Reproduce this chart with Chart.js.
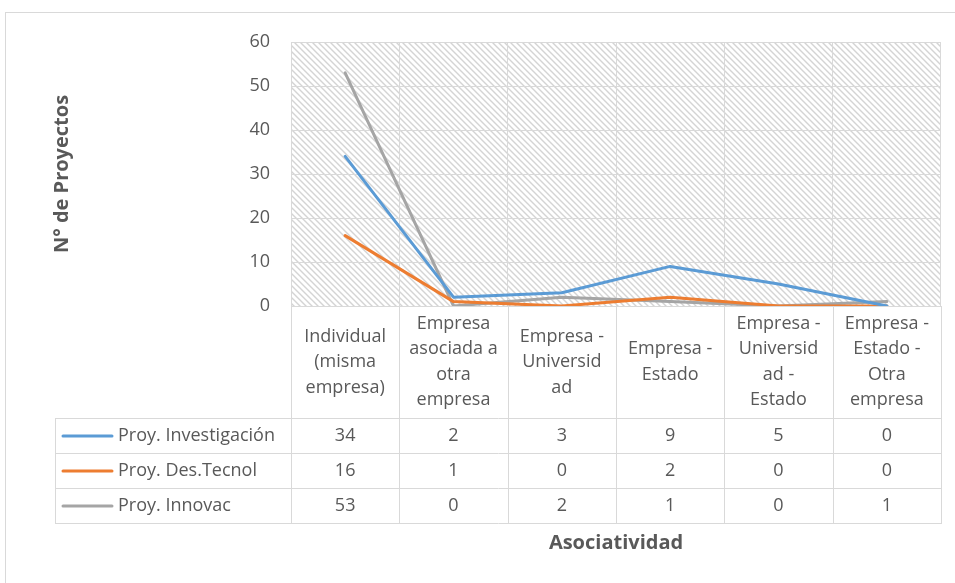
<!DOCTYPE html>
<html>
<head>
<meta charset="utf-8">
<script src="https://cdn.jsdelivr.net/npm/chart.js@4.4.1/dist/chart.umd.min.js"></script>
<style>
  html, body { margin: 0; padding: 0; background: #fff; }
  #wrap { position: relative; width: 955px; height: 583px; overflow: hidden; }
  #marco { position: absolute; left: 5px; top: 12px; width: 970px; height: 600px; border: 1px solid #d9d9d9; }
  canvas { position: absolute; left: 0; top: 0; }
</style>
</head>
<body>
<div id="wrap">
  <div id="marco"></div>
  <canvas id="grafico" width="955" height="583"></canvas>
</div>
<script>
// Categorías de asociatividad (ya partidas en líneas como en la tabla)
const categorias = [
  ["Individual", "(misma", "empresa)"],
  ["Empresa", "asociada a", "otra", "empresa"],
  ["Empresa -", "Universid", "ad"],
  ["Empresa -", "Estado"],
  ["Empresa -", "Universid", "ad -", "Estado"],
  ["Empresa -", "Estado -", "Otra", "empresa"]
];
const investigacion = [34, 2, 3, 9, 5, 0];
const desTecnol = [16, 1, 0, 2, 0, 0];
const innovac = [53, 0, 2, 1, 0, 1];
const ticksY = [0, 10, 20, 30, 40, 50, 60];

const gris = "#595959";
const lineaTabla = "#d9d9d9";
const fuente = "'Open Sans', 'Liberation Sans', sans-serif";

// trama diagonal del área de trazado
function crearTrama() {
  const s = 6;
  const c = document.createElement("canvas");
  c.width = s; c.height = s;
  const g = c.getContext("2d");
  g.fillStyle = "#ffffff";
  g.fillRect(0, 0, s, s);
  g.strokeStyle = "#d4d4d4";
  g.lineWidth = 1.4;
  g.beginPath();
  g.moveTo(-1, -1); g.lineTo(s + 1, s + 1);
  g.moveTo(-1, s - 1); g.lineTo(1, s + 1);
  g.moveTo(s - 1, -1); g.lineTo(s + 1, 1);
  g.stroke();
  return g.createPattern(c, "repeat");
}

const fondoTrama = {
  id: "fondoTrama",
  beforeDraw(chart) {
    const { ctx, chartArea: a } = chart;
    ctx.save();
    ctx.fillStyle = crearTrama();
    ctx.fillRect(a.left, a.top, a.right - a.left, a.bottom - a.top);
    ctx.restore();
  }
};

// tabla de datos bajo el eje X
const tablaDatos = {
  id: "tablaDatos",
  afterDraw(chart) {
    const { ctx, chartArea: a, scales: { x } } = chart;
    const n = chart.data.labels.length;
    const ancho = (a.right - a.left) / n;
    const cabBottom = a.bottom + 112;
    const filaH = 35;
    const izq = 55;
    const sets = chart.data.datasets;
    const fondo = cabBottom + filaH * sets.length;

    ctx.save();
    ctx.strokeStyle = lineaTabla;
    ctx.lineWidth = 1;
    ctx.beginPath();
    for (let i = 0; i <= n; i++) {
      const px = Math.round(a.left + i * ancho) + 0.5;
      ctx.moveTo(px, a.bottom);
      ctx.lineTo(px, fondo);
    }
    ctx.moveTo(izq + 0.5, cabBottom);
    ctx.lineTo(izq + 0.5, fondo);
    for (let r = 0; r <= sets.length; r++) {
      const py = Math.round(cabBottom + r * filaH) + 0.5;
      ctx.moveTo(izq, py);
      ctx.lineTo(a.right + 1, py);
    }
    ctx.stroke();

    // cabeceras de categoría
    ctx.fillStyle = gris;
    ctx.font = "18px " + fuente;
    ctx.textAlign = "center";
    ctx.textBaseline = "middle";
    const lh = 25.5;
    chart.data.labels.forEach((lineas, i) => {
      const cx = x.getPixelForValue(i);
      const cy = (a.bottom + cabBottom) / 2;
      lineas.forEach((t, k) => {
        ctx.fillText(t, cx, cy + (k - (lineas.length - 1) / 2) * lh);
      });
    });

    // filas de series
    sets.forEach((ds, r) => {
      const cy = cabBottom + r * filaH + filaH / 2 + 0.5;
      ctx.strokeStyle = ds.borderColor;
      ctx.lineWidth = 3;
      ctx.lineCap = "round";
      ctx.beginPath();
      ctx.moveTo(63, cy);
      ctx.lineTo(112, cy);
      ctx.stroke();
      ctx.fillStyle = gris;
      ctx.textAlign = "left";
      ctx.fillText(ds.label, 118, cy);
      ctx.textAlign = "center";
      ds.data.forEach((v, i) => {
        ctx.fillText(String(v), x.getPixelForValue(i), cy);
      });
    });
    ctx.restore();
  }
};

function serie(label, data, color) {
  return {
    label, data,
    borderColor: color,
    backgroundColor: color,
    borderWidth: 3,
    pointRadius: 0,
    tension: 0,
    borderJoinStyle: "round",
    borderCapStyle: "round"
  };
}

new Chart(document.getElementById("grafico"), {
  type: "line",
  data: {
    labels: categorias,
    datasets: [
      serie("Proy. Investigación", investigacion, "#5b9bd5"),
      serie("Proy. Des.Tecnol", desTecnol, "#ed7d31"),
      serie("Proy. Innovac", innovac, "#a5a5a5")
    ]
  },
  options: {
    responsive: false,
    animation: false,
    devicePixelRatio: 1,
    layout: { padding: { left: 0, top: 42, right: 14, bottom: 28 } },
    plugins: { legend: { display: false }, tooltip: { enabled: false } },
    scales: {
      x: {
        offset: true,
        grid: { offset: true, color: lineaTabla, drawTicks: false },
        border: { color: lineaTabla },
        ticks: { display: false },
        title: {
          display: true,
          text: "Asociatividad",
          color: gris,
          font: { family: fuente, size: 20, weight: "bold" },
          padding: { top: 225, bottom: 0 }
        }
      },
      y: {
        min: ticksY[0],
        max: ticksY[ticksY.length - 1],
        afterFit(scale) { scale.width = 291; },
        afterBuildTicks(scale) { scale.ticks = ticksY.map(v => ({ value: v })); },
        grid: { color: lineaTabla, drawTicks: false },
        border: { color: lineaTabla },
        ticks: {
          color: gris,
          padding: 21,
          font: { family: fuente, size: 18 }
        },
        title: {
          display: true,
          text: "N° de Proyectos",
          color: gris,
          font: { family: fuente, size: 20, weight: "bold" },
          padding: { top: 50, bottom: 0 }
        }
      }
    }
  },
  plugins: [fondoTrama, tablaDatos]
});
</script>
</body>
</html>
